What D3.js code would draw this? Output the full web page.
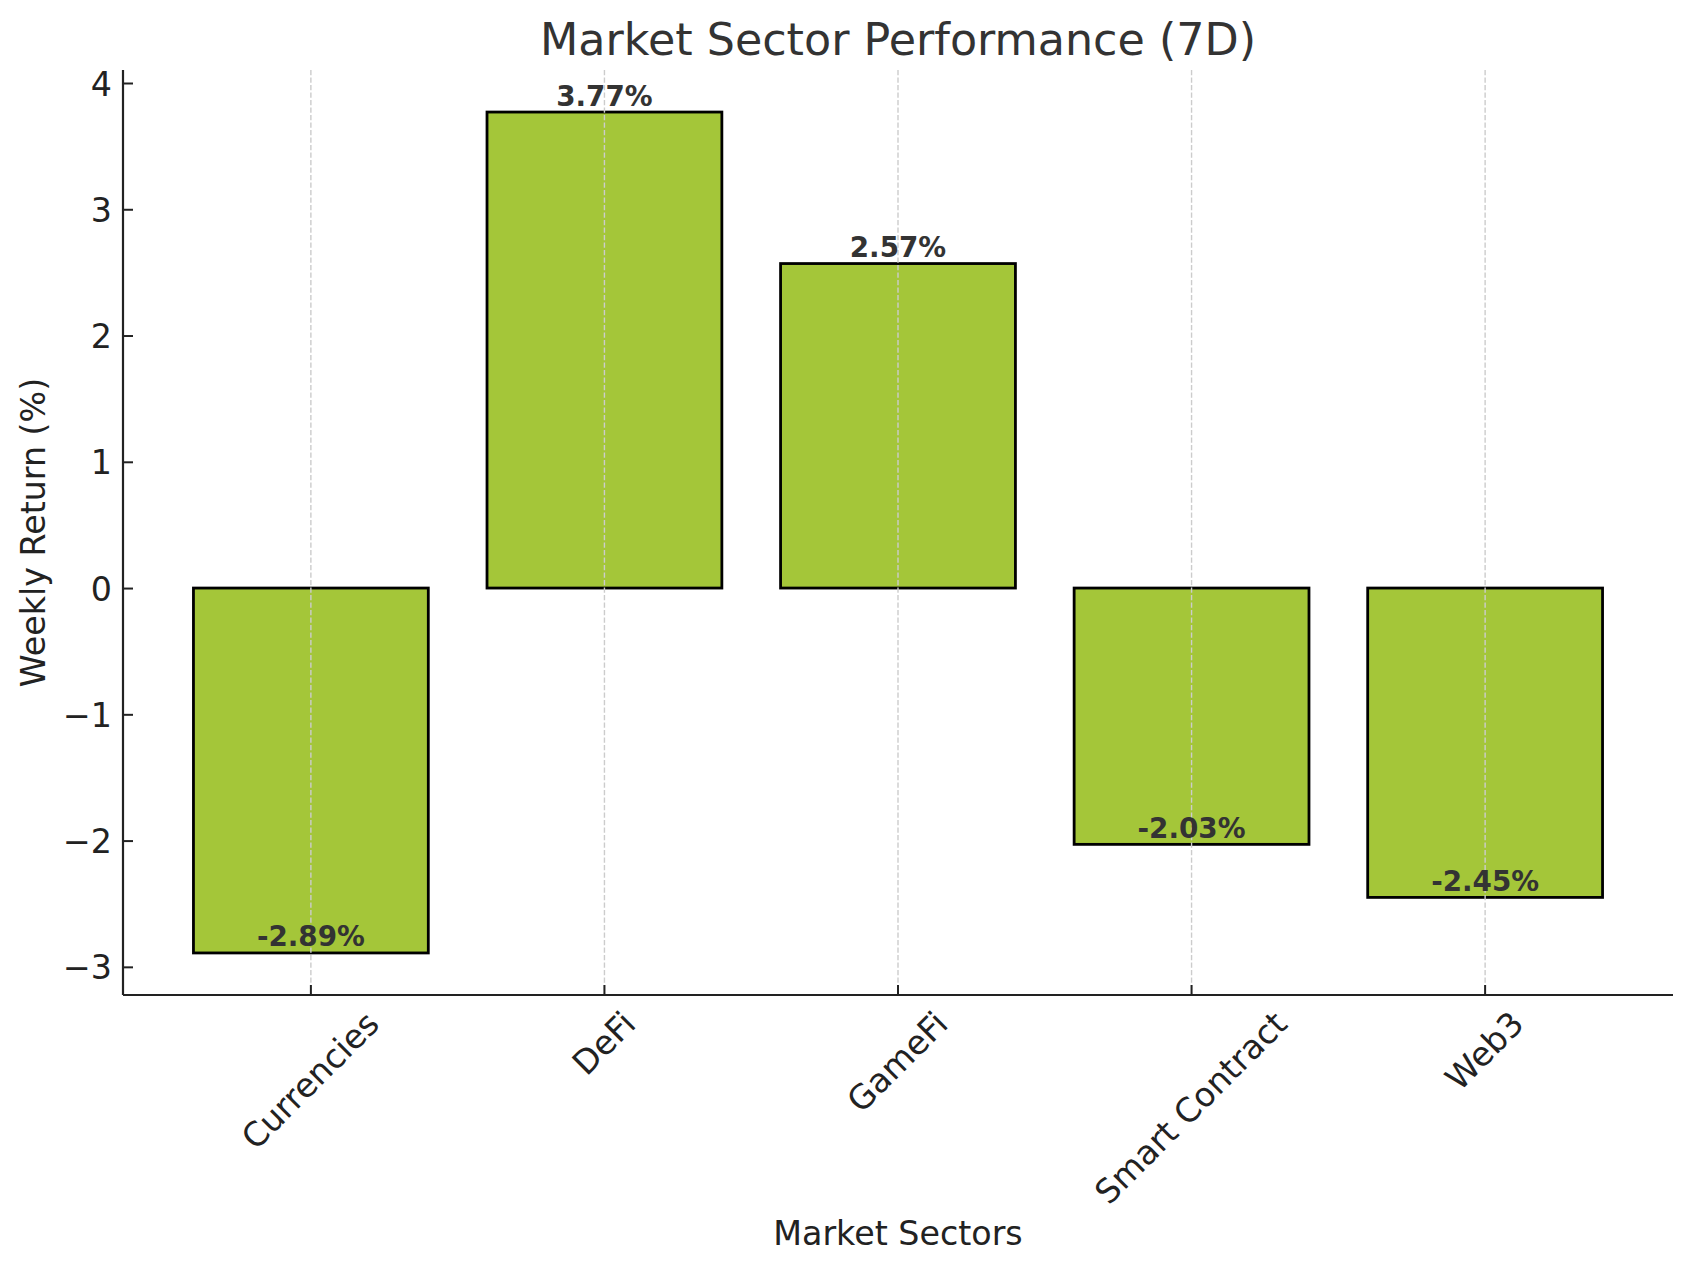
<!DOCTYPE html>
<html>
<head>
<meta charset="utf-8">
<script src="https://cdn.jsdelivr.net/npm/d3@7"></script>
<style>
  html, body { margin: 0; padding: 0; background: #fff; }
  svg { display: block; font-family: "DejaVu Sans", sans-serif; }
</style>
</head>
<body>
<svg id="chart" width="1693" height="1272"></svg>
<script>
const categories = ["Currencies", "DeFi", "GameFi", "Smart Contract", "Web3"];
const values = [-2.89, 3.77, 2.57, -2.03, -2.45];
const yTicks = [-3, -2, -1, 0, 1, 2, 3, 4];
const titleText = "Market Sector Performance (7D)";
const xLabelText = "Market Sectors";
const yLabelText = "Weekly Return (%)";

const W = 1693, H = 1272;
const plot = { left: 123, right: 1673, top: 70, bottom: 995 };
const tickFont = 33.3;

const svg = d3.select("#chart");

const vmin = d3.min(values), vmax = d3.max(values);
const pad = (vmax - vmin) * 0.05;
const y = d3.scaleLinear().domain([vmin - pad, vmax + pad]).range([plot.bottom, plot.top]);
const x = d3.scaleBand().domain(categories).range([plot.left, plot.right])
  .paddingInner(0.2).paddingOuter(0.24);
const cx = d => x(d) + x.bandwidth() / 2;

// Bars
svg.append("g").selectAll("rect").data(values).join("rect")
  .attr("x", (d, i) => x(categories[i]))
  .attr("width", x.bandwidth())
  .attr("y", d => y(Math.max(0, d)))
  .attr("height", d => Math.abs(y(d) - y(0)))
  .attr("fill", "#a4c639")
  .attr("stroke", "#000")
  .attr("stroke-width", 2.8);

// Vertical dashed grid
svg.append("g").selectAll("line").data(categories).join("line")
  .attr("x1", d => cx(d)).attr("x2", d => cx(d))
  .attr("y1", plot.top).attr("y2", plot.bottom)
  .attr("stroke", "#cccccc")
  .attr("stroke-width", 1.4)
  .attr("stroke-dasharray", "5.2,2.3");

// Value labels
svg.append("g").selectAll("text").data(values).join("text")
  .attr("x", (d, i) => cx(categories[i]))
  .attr("y", d => y(d) - 6.5)
  .attr("text-anchor", "middle")
  .attr("font-size", 27.8)
  .attr("font-weight", "bold")
  .attr("fill", "#333333")
  .text(d => d.toFixed(2) + "%");

// Axes
const yAxis = d3.axisLeft(y).tickValues(yTicks).tickSizeInner(-10).tickSizeOuter(0).tickPadding(11)
  .tickFormat(d => d < 0 ? "\u2212" + Math.abs(d) : String(d));
const gy = svg.append("g").attr("transform", `translate(${plot.left},0)`).call(yAxis);
gy.select(".domain").attr("stroke", "#222").attr("stroke-width", 2.2)
  .attr("d", `M0,${plot.top}V${plot.bottom}`);
gy.selectAll(".tick line").attr("stroke", "#222").attr("stroke-width", 2);
gy.selectAll(".tick text").attr("font-size", tickFont).attr("fill", "#222")
  .attr("font-family", "DejaVu Sans").attr("dy", "0.36em");

const xAxis = d3.axisBottom(x).tickSizeInner(-10).tickSizeOuter(0).tickFormat("");
const gx = svg.append("g").attr("transform", `translate(0,${plot.bottom})`).call(xAxis);
gx.select(".domain").attr("stroke", "#222").attr("stroke-width", 2.2)
  .attr("d", `M${plot.left},0H${plot.right}`);
gx.selectAll(".tick line").attr("stroke", "#222").attr("stroke-width", 2);

// Rotated x tick labels (bbox centered on tick, top at axis + pad)
const xl = svg.append("g");
categories.forEach(c => {
  const t = xl.append("text")
    .attr("font-size", tickFont).attr("fill", "#222")
    .attr("text-anchor", "middle")
    .attr("dy", "0.32em")
    .text(c);
  const w = t.node().getComputedTextLength();
  const h = tickFont * 1.16;
  const s = (w + h) / Math.SQRT2;
  const px = cx(c), py = plot.bottom + 9.7 + s / 2;
  t.attr("x", px).attr("y", py).attr("transform", `rotate(-45,${px},${py})`);
});

// Title & axis labels
svg.append("text").attr("x", (plot.left + plot.right) / 2).attr("y", 55)
  .attr("text-anchor", "middle").attr("font-size", 44.4).attr("fill", "#333333")
  .text(titleText);
svg.append("text").attr("x", (plot.left + plot.right) / 2).attr("y", 1245)
  .attr("text-anchor", "middle").attr("font-size", 33.3).attr("fill", "#222")
  .text(xLabelText);
svg.append("text")
  .attr("transform", `translate(45,${(plot.top + plot.bottom) / 2}) rotate(-90)`)
  .attr("text-anchor", "middle").attr("font-size", 33.3).attr("fill", "#222")
  .text(yLabelText);
</script>
</body>
</html>
